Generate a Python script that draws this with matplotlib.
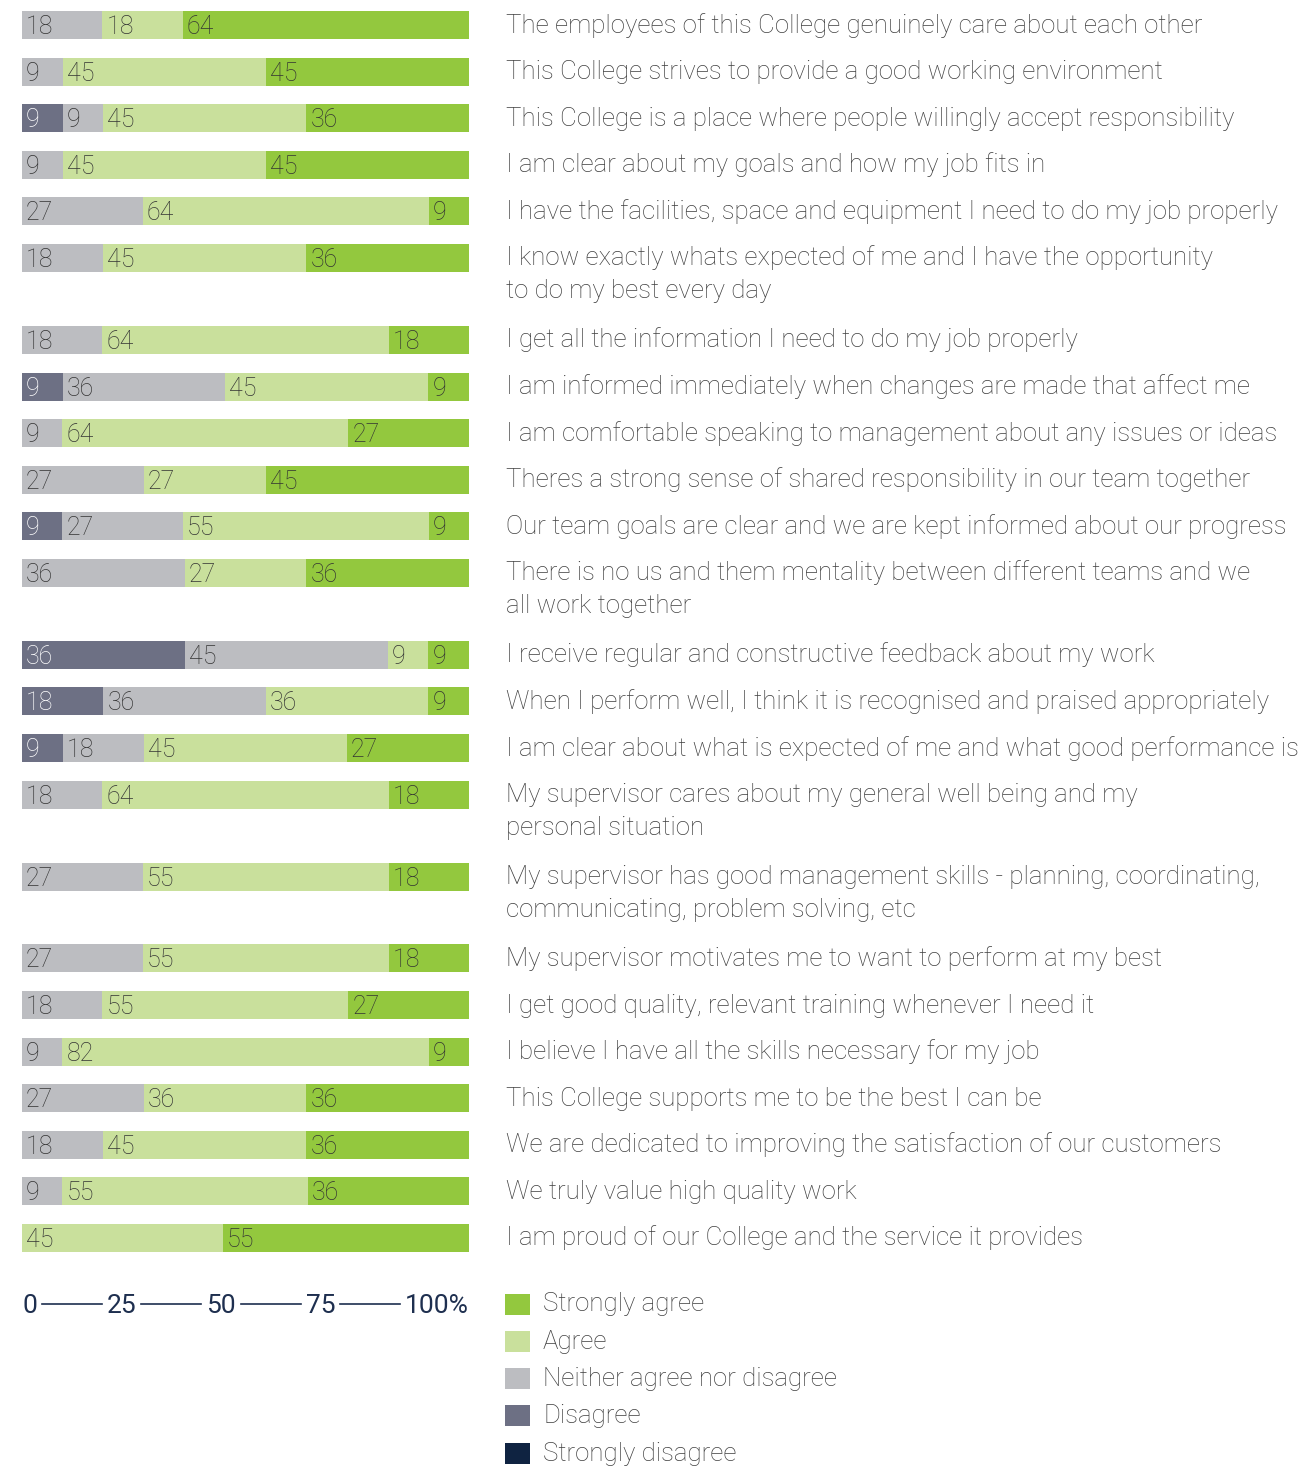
import numpy as np
import matplotlib
matplotlib.use("Agg")
import matplotlib.pyplot as plt
from matplotlib.patches import Rectangle

plt.rcParams["font.family"] = ["Roboto", "DejaVu Sans"]

statements = [
    "The employees of this College genuinely care about each other",
    "This College strives to provide a good working environment",
    "This College is a place where people willingly accept responsibility",
    "I am clear about my goals and how my job fits in",
    "I have the facilities, space and equipment I need to do my job properly",
    "I know exactly whats expected of me and I have the opportunity\nto do my best every day",
    "I get all the information I need to do my job properly",
    "I am informed immediately when changes are made that affect me",
    "I am comfortable speaking to management about any issues or ideas",
    "Theres a strong sense of shared responsibility in our team together",
    "Our team goals are clear and we are kept informed about our progress",
    "There is no us and them mentality between different teams and we\nall work together",
    "I receive regular and constructive feedback about my work",
    "When I perform well, I think it is recognised and praised appropriately",
    "I am clear about what is expected of me and what good performance is",
    "My supervisor cares about my general well being and my\npersonal situation",
    "My supervisor has good management skills - planning, coordinating,\ncommunicating, problem solving, etc",
    "My supervisor motivates me to want to perform at my best",
    "I get good quality, relevant training whenever I need it",
    "I believe I have all the skills necessary for my job",
    "This College supports me to be the best I can be",
    "We are dedicated to improving the satisfaction of our customers",
    "We truly value high quality work",
    "I am proud of our College and the service it provides",
]

categories = ["Strongly disagree", "Disagree", "Neither agree nor disagree",
              "Agree", "Strongly agree"]

strongly_disagree = [0, 0, 0, 0, 0, 0, 0, 0, 0, 0, 0, 0,
                     0, 0, 0, 0, 0, 0, 0, 0, 0, 0, 0, 0]
disagree = [0, 0, 9, 0, 0, 0, 0, 9, 0, 0, 9, 0,
            36, 18, 9, 0, 0, 0, 0, 0, 0, 0, 0, 0]
neither = [18, 9, 9, 9, 27, 18, 18, 36, 9, 27, 27, 36,
           45, 36, 18, 18, 27, 27, 18, 9, 27, 18, 9, 0]
agree = [18, 45, 45, 45, 64, 45, 64, 45, 64, 27, 55, 27,
         9, 36, 45, 64, 55, 55, 55, 82, 36, 45, 55, 45]
strongly_agree = [64, 45, 36, 45, 9, 36, 18, 9, 27, 45, 9, 36,
                  9, 9, 27, 18, 18, 18, 27, 9, 36, 36, 36, 55]

axis_labels = ["0", "25", "50", "75", "100%"]

colors = ["#0f2341", "#6d7084", "#bcbdc1", "#c9e09c", "#93c83e"]
num_colors = ["white", "white", "#333333", "#333333", "#333333"]
text_col = "#3f3f3f"

W, H = 1310, 1467
fig = plt.figure(figsize=(W / 100, H / 100), dpi=100)

# overlay axes in pixel coordinates for text / legend
lay = fig.add_axes([0, 0, 1, 1])
lay.set_xlim(0, W)
lay.set_ylim(H, 0)
lay.axis("off")

bar_x0, bar_x1 = 22, 469
ax = fig.add_axes([bar_x0 / W, 0, (bar_x1 - bar_x0) / W, 1])
ax.set_xlim(0, 100)
ax.set_ylim(H, 0)
ax.axis("off")

# row layout: regular step plus extra space for wrapped labels
first_y, step, extra = 25, 46.6, 35.3
ys = []
y = first_y
for s in statements:
    ys.append(y)
    y += step + extra * s.count("\n")
ys = np.array(ys)

series = np.array([strongly_disagree, disagree, neither, agree, strongly_agree],
                  dtype=float)
totals = series.sum(axis=0)
widths = series / totals * 100
lefts = np.vstack([np.zeros(len(statements)), np.cumsum(widths, axis=0)[:-1]])

for k in range(len(categories)):
    ax.barh(ys, widths[k], left=lefts[k], height=28, color=colors[k],
            linewidth=0)
    for i in range(len(statements)):
        v = int(series[k, i])
        if v > 0:
            ax.text(lefts[k, i] + 0.9, ys[i] + 9, str(v), fontsize=18,
                    fontweight="light", color=num_colors[k], ha="left",
                    va="baseline")

# statement labels
for i, s in enumerate(statements):
    for j, line in enumerate(s.split("\n")):
        lay.text(506, ys[i] + 7.5 + 32.5 * j, line, fontsize=18.6,
                 fontweight="light", color=text_col, ha="left", va="baseline")

# axis scale row: labels joined by lines
axis_y = 1304
fig.canvas.draw()
rend = fig.canvas.get_renderer()
tick_texts = []
for lab in axis_labels:
    t = lay.text(0, axis_y + 9, lab, fontsize=19, color="#1e2f4f",
                 ha="left", va="baseline")
    tick_texts.append(t)
tw = [t.get_window_extent(rend).width for t in tick_texts]
gap = 5
line_len = (bar_x1 - bar_x0 - sum(tw) - 2 * gap * (len(tw) - 1)) / (len(tw) - 1)
x = bar_x0
for i, t in enumerate(tick_texts):
    t.set_x(x)
    x += tw[i]
    if i < len(tick_texts) - 1:
        lay.plot([x + gap, x + gap + line_len], [axis_y, axis_y],
                 color="#1e2f4f", lw=1.2)
        x += 2 * gap + line_len

# legend
leg_y0, leg_step = 1304, 37.3
for n, k in enumerate(range(len(categories) - 1, -1, -1)):
    yy = leg_y0 + n * leg_step
    lay.add_patch(Rectangle((505, yy - 10.5), 25, 21, color=colors[k], lw=0))
    lay.text(543, yy + 7.5, categories[k], fontsize=18.6, fontweight="light",
             color=text_col, ha="left", va="baseline")

fig.savefig("out.png", dpi=100, facecolor="white")
